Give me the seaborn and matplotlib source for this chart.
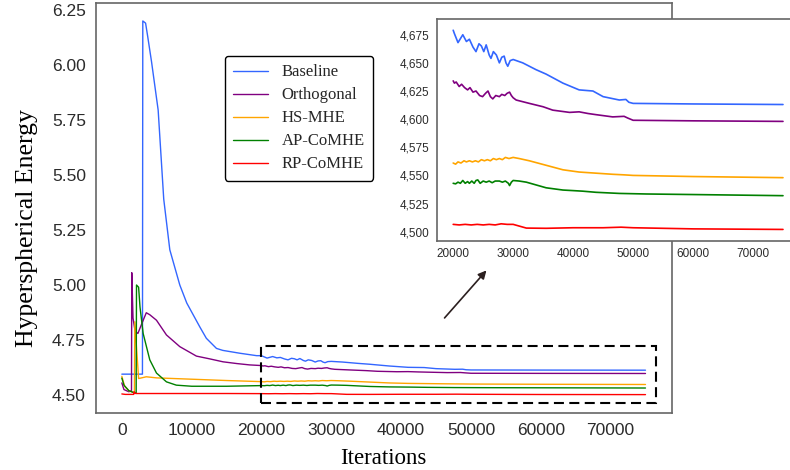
import pandas as pd
import matplotlib.pyplot as plt
import matplotlib.ticker as mticker
from matplotlib.patches import Rectangle
import seaborn as sns

# === DATA ===
baseline_it = [0, 2950, 3000, 3400, 3700, 4250, 5200, 6000, 6870, 8300, 9300, 11160, 12100, 13550,
               14450, 16900, 19300,
               20000, 20200, 20800, 21600, 22200, 22700, 23300, 23800, 24300, 24700, 25100, 25500,
               26000, 26300, 26700, 27200, 27700, 28100, 28500, 28800, 29100, 29500, 30000, 31600,
               33800, 35500, 38300, 41000, 43300, 45000, 47700, 48800, 49300, 50000, 60000, 75000]
baseline_val = [4.595, 4.595, 6.20, 6.19, 6.13, 6.015, 5.795, 5.39, 5.16, 5.00, 4.918, 4.81, 4.758, 4.712,
                4.703, 4.69, 4.679,
                4.679, 4.676, 4.668, 4.675, 4.669, 4.671, 4.664, 4.660, 4.667, 4.665, 4.660, 4.666,
                4.657, 4.654, 4.660, 4.657, 4.650, 4.655, 4.656, 4.650, 4.647, 4.652, 4.653, 4.650,
                4.644, 4.640, 4.632, 4.626, 4.625, 4.620, 4.617, 4.6175, 4.615, 4.614, 4.6135, 4.613]

orth_it = [0, 300, 1000, 1380, 1420, 1600, 1900, 2300, 2800, 3500, 4000, 4960, 6390, 8300, 10680,
           12500, 14500, 16500, 18300,
           20000, 20200, 20500, 21000, 21400, 21900, 22400, 22800, 23300, 23800, 24400, 24900,
           25400, 25800, 26200, 26600, 27100, 27700, 28100, 28600, 29000, 29400, 29700, 30000,
           30500, 32700, 35000, 36600, 39400, 41000, 42500, 43800, 46600, 48500, 49100, 50000,
           60000, 75000]
orth_val = [4.555, 4.525, 4.515, 4.52, 5.056, 4.85, 4.79, 4.78, 4.82, 4.874, 4.865, 4.84, 4.773, 4.72, 4.677,
            4.665, 4.651, 4.643, 4.637,
            4.634, 4.632, 4.633, 4.629, 4.631, 4.628, 4.626, 4.628, 4.624, 4.625, 4.621, 4.620,
            4.623, 4.625, 4.620, 4.618, 4.621, 4.620, 4.622, 4.621, 4.623, 4.624, 4.621, 4.619,
            4.617, 4.614, 4.611, 4.608, 4.606, 4.6065, 4.605, 4.604, 4.602, 4.6025, 4.601, 4.599,
            4.5985, 4.598]

hs_it = [0, 400, 1000, 1800, 1860, 2400, 3500, 5000, 7500, 10000, 15000,
         20000, 20400, 20800, 21300, 21800, 22200, 22700, 23200, 23700, 24200, 24700, 25200,
         25700, 26200, 26700, 27200, 27700, 28200, 28700, 29300, 30000, 31000, 32700, 35500,
         38300, 41000, 43800, 46600, 48500, 50000, 60000, 75000]
hs_val = [4.585, 4.54, 4.52, 4.51, 4.833, 4.575, 4.583, 4.578, 4.575, 4.572, 4.566,
          4.561, 4.560, 4.562, 4.561, 4.563, 4.562, 4.563, 4.562, 4.563, 4.562, 4.564, 4.563,
          4.564, 4.563, 4.565, 4.564, 4.565, 4.564, 4.566, 4.565, 4.566, 4.565, 4.563, 4.559,
          4.555, 4.553, 4.552, 4.551, 4.5505, 4.550, 4.549, 4.548]

ap_it = [0, 300, 1000, 1800, 2050, 2100, 2400, 2600, 3050, 4000, 4960, 6390, 7800, 10000, 15000,
         20000, 20400, 20800, 21200, 21600, 22000, 22400, 22700, 23100, 23500, 23800, 24100,
         24500, 25000, 25500, 26000, 26500, 27000, 27700, 28200, 28700, 29200, 29400, 29700,
         30000, 31000, 32200, 35500, 38300, 40000, 41600, 43800, 47700, 52200, 60000, 75000]
ap_val = [4.577, 4.545, 4.52, 4.51, 4.51, 5.00, 4.99, 4.90, 4.78, 4.66, 4.60, 4.56, 4.545, 4.540, 4.540,
          4.543, 4.5425, 4.544, 4.543, 4.5455, 4.543, 4.5445, 4.543, 4.545, 4.543, 4.5455, 4.546,
          4.543, 4.545, 4.544, 4.545, 4.5435, 4.545, 4.545, 4.544, 4.545, 4.543, 4.541, 4.544,
          4.5455, 4.545, 4.544, 4.539, 4.537, 4.5365, 4.536, 4.535, 4.534, 4.5335, 4.533, 4.532]

rp_it = [0, 500, 1700, 1750, 1900, 2000, 5000, 10000, 15000,
         20000, 21000, 22000, 23000, 24000, 25000, 26000, 27000, 28000, 29000, 30000, 31000,
         32200, 35500, 40000, 45000, 48000, 50000, 60000, 75000]
rp_val = [4.505, 4.503, 4.503, 4.515, 4.508, 4.507, 4.507, 4.507, 4.507,
          4.5065, 4.506, 4.5065, 4.506, 4.5065, 4.506, 4.5065, 4.506, 4.507, 4.5065, 4.5065, 4.505,
          4.5032, 4.503, 4.5035, 4.5035, 4.504, 4.5035, 4.5025, 4.502]

methods = ["Baseline", "Orthogonal", "HS-MHE", "AP-CoMHE", "RP-CoMHE"]
colors = {"Baseline": "#3366ff", "Orthogonal": "#800080", "HS-MHE": "#ffa500",
          "AP-CoMHE": "#008000", "RP-CoMHE": "#ff0000"}

series = {
    "Baseline": (baseline_it, baseline_val),
    "Orthogonal": (orth_it, orth_val),
    "HS-MHE": (hs_it, hs_val),
    "AP-CoMHE": (ap_it, ap_val),
    "RP-CoMHE": (rp_it, rp_val),
}
frames = [pd.DataFrame({"Iterations": it, "Energy": val, "Method": name})
          for name, (it, val) in series.items()]
df = pd.concat(frames, ignore_index=True)
df_zoom = df[df["Iterations"] >= 20000]

# === Plotting Setup ===
sns.set_theme(style="white")
plt.rcParams["font.family"] = ["Liberation Sans", "DejaVu Sans"]

fig = plt.figure(figsize=(7.9, 4.7), dpi=100)
ax = fig.add_axes([0.1211, 0.1206, 0.7291, 0.8737])

sns.lineplot(data=df, x="Iterations", y="Energy", hue="Method", hue_order=methods,
             palette=colors, estimator=None, sort=False, linewidth=1.0, ax=ax)

ax.set_xlim(-3750, 78750)
ax.set_ylim(4.417, 6.283)
ax.set_xticks([0, 10000, 20000, 30000, 40000, 50000, 60000, 70000])
ax.set_yticks([4.50, 4.75, 5.00, 5.25, 5.50, 5.75, 6.00, 6.25])
ax.yaxis.set_major_formatter(mticker.FormatStrFormatter("%.2f"))
ax.tick_params(axis="both", which="major", direction="out", length=4, width=1,
               color="#555555", labelsize=12.5, labelcolor="#2b2b2b", pad=3)
for side in ["left", "bottom", "top", "right"]:
    ax.spines[side].set_color("#666666")
    ax.spines[side].set_linewidth(1.2)

ax.set_xlabel("Iterations", family="Liberation Serif", fontsize=16.5, color="black")
ax.set_ylabel("Hyperspherical Energy", family="Liberation Serif", fontsize=18.5, color="black")
ax.xaxis.set_label_coords(0.5, -0.084)
ax.yaxis.set_label_coords(-0.100, 0.45)

leg = ax.legend(loc="upper left", bbox_to_anchor=(0.2245, 0.870), borderaxespad=0,
                prop={"family": "Liberation Serif", "size": 12}, frameon=True,
                fancybox=True, edgecolor="black", handlelength=2.1, labelspacing=0.42,
                borderpad=0.5)
leg.get_frame().set_linewidth(1.0)
leg.get_frame().set_alpha(1)

# dashed zoom window
ax.add_patch(Rectangle((20000, 4.462), 56500, 0.261, fill=False, edgecolor="black",
                       linewidth=1.5, linestyle=(0, (4.8, 2.6)), zorder=5))

# arrow to inset
ax.annotate("", xy=(0.6181, 0.4291), xycoords="figure fraction",
            xytext=(0.5604, 0.3191), textcoords="figure fraction",
            arrowprops=dict(arrowstyle="-|>", color="#2b1f1f", lw=1.2, mutation_scale=12))

# --- Inset ---
axin = fig.add_axes([0.5528, 0.4879, 0.4592, 0.4717])
axin.set_zorder(10)
axin.set_facecolor("white")
sns.lineplot(data=df_zoom, x="Iterations", y="Energy", hue="Method", hue_order=methods,
             palette=colors, estimator=None, sort=False, linewidth=1.2, legend=False, ax=axin)
axin.set_xlim(17250, 77750)
axin.set_ylim(4.492, 4.689)
axin.set_xticks([20000, 30000, 40000, 50000, 60000, 70000])
axin.set_yticks([4.500, 4.525, 4.550, 4.575, 4.600, 4.625, 4.650, 4.675])
axin.yaxis.set_major_formatter(mticker.FuncFormatter(lambda v, p: f"{v:.3f}".replace(".", ",")))
axin.tick_params(axis="both", direction="out", length=3, width=1, color="#555555",
                 labelsize=8.5, labelcolor="#2b2b2b", pad=2)
axin.set_xlabel("")
axin.set_ylabel("")
axin.spines["right"].set_visible(False)
for side in ["left", "bottom", "top"]:
    axin.spines[side].set_color("#666666")
    axin.spines[side].set_linewidth(1.2)

plt.savefig("out.png", dpi=100)
plt.close()
